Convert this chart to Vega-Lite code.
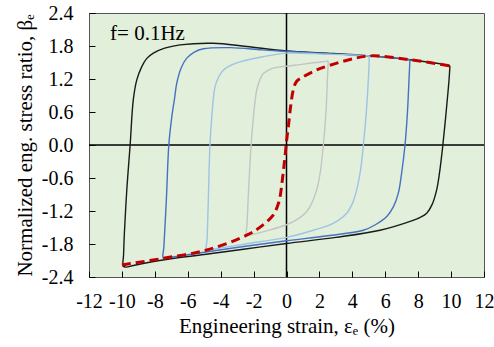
{
  "$schema": "https://vega.github.io/schema/vega-lite/v6.json",
  "autosize": {"type": "none"},
  "width": 395,
  "height": 264,
  "padding": {"left": 89, "top": 13, "right": 10, "bottom": 70},
  "background": "#ffffff",
  "config": {
    "view": {"fill": "#E2EFDA", "stroke": "#555555", "strokeWidth": 1},
    "font": "Liberation Serif"
  },
  "datasets": {
    "loops": [
      {"s":"A10","i":0,"x":9.93,"y":1.44},{"s":"A10","i":0.5,"x":9.88,"y":1.2},{"s":"A10","i":1,"x":9.7,"y":0.6},{"s":"A10","i":2,"x":9.5,"y":0.0},{"s":"A10","i":3,"x":9.3,"y":-0.5},{"s":"A10","i":4,"x":9.12,"y":-0.82},{"s":"A10","i":5,"x":8.85,"y":-1.08},{"s":"A10","i":6,"x":8.52,"y":-1.24},{"s":"A10","i":7,"x":8.1,"y":-1.32},{"s":"A10","i":8,"x":7.69,"y":-1.37},{"s":"A10","i":9,"x":5.68,"y":-1.55},{"s":"A10","i":10,"x":3.0,"y":-1.68},{"s":"A10","i":11,"x":0.0,"y":-1.79},{"s":"A10","i":12,"x":-2.5,"y":-1.89},{"s":"A10","i":13,"x":-5.0,"y":-1.99},{"s":"A10","i":14,"x":-7.5,"y":-2.09},{"s":"A10","i":15,"x":-9.3,"y":-2.19},{"s":"A10","i":16,"x":-9.75,"y":-2.22},{"s":"A10","i":17,"x":-9.92,"y":-2.2},{"s":"A10","i":17.5,"x":-9.9,"y":-2.0},{"s":"A10","i":18,"x":-9.85,"y":-1.6},{"s":"A10","i":19,"x":-9.7,"y":-0.8},{"s":"A10","i":20,"x":-9.5,"y":0.0},{"s":"A10","i":21,"x":-9.31,"y":0.82},{"s":"A10","i":22,"x":-9.1,"y":1.18},{"s":"A10","i":23,"x":-8.8,"y":1.42},{"s":"A10","i":24,"x":-8.5,"y":1.57},{"s":"A10","i":25,"x":-8.09,"y":1.67},{"s":"A10","i":26,"x":-7.4,"y":1.76},{"s":"A10","i":27,"x":-6.47,"y":1.82},{"s":"A10","i":28,"x":-4.45,"y":1.85},{"s":"A10","i":29,"x":-2.42,"y":1.79},{"s":"A10","i":30,"x":0.0,"y":1.71},{"s":"A10","i":31,"x":2.5,"y":1.67},{"s":"A10","i":32,"x":5.07,"y":1.62},{"s":"A10","i":33,"x":7.5,"y":1.55},{"s":"A10","i":34,"x":9.0,"y":1.49},{"s":"A10","i":34.5,"x":9.5,"y":1.465},{"s":"A10","i":35,"x":9.93,"y":1.44},
      {"s":"A7.5","i":0,"x":7.5,"y":1.55},{"s":"A7.5","i":0.5,"x":7.46,"y":1.3},{"s":"A7.5","i":1,"x":7.35,"y":0.6},{"s":"A7.5","i":2,"x":7.2,"y":0.0},{"s":"A7.5","i":3,"x":7.0,"y":-0.5},{"s":"A7.5","i":4,"x":6.79,"y":-0.88},{"s":"A7.5","i":5,"x":6.5,"y":-1.12},{"s":"A7.5","i":6,"x":6.09,"y":-1.3},{"s":"A7.5","i":7,"x":5.4,"y":-1.45},{"s":"A7.5","i":8,"x":4.67,"y":-1.55},{"s":"A7.5","i":9,"x":2.5,"y":-1.65},{"s":"A7.5","i":10,"x":0.0,"y":-1.74},{"s":"A7.5","i":11,"x":-2.5,"y":-1.84},{"s":"A7.5","i":12,"x":-5.0,"y":-1.95},{"s":"A7.5","i":12.5,"x":-7.0,"y":-2.04},{"s":"A7.5","i":13,"x":-7.48,"y":-2.06},{"s":"A7.5","i":13.5,"x":-7.45,"y":-1.85},{"s":"A7.5","i":14,"x":-7.3,"y":-1.0},{"s":"A7.5","i":15,"x":-7.15,"y":0.0},{"s":"A7.5","i":16,"x":-6.97,"y":0.51},{"s":"A7.5","i":17,"x":-6.8,"y":0.85},{"s":"A7.5","i":18,"x":-6.67,"y":1.12},{"s":"A7.5","i":19,"x":-6.4,"y":1.4},{"s":"A7.5","i":20,"x":-6.06,"y":1.58},{"s":"A7.5","i":21,"x":-5.6,"y":1.69},{"s":"A7.5","i":22,"x":-5.05,"y":1.75},{"s":"A7.5","i":23,"x":-3.43,"y":1.77},{"s":"A7.5","i":24,"x":-1.5,"y":1.73},{"s":"A7.5","i":25,"x":0.0,"y":1.7},{"s":"A7.5","i":26,"x":2.5,"y":1.66},{"s":"A7.5","i":27,"x":5.07,"y":1.62},{"s":"A7.5","i":27.5,"x":7.0,"y":1.57},{"s":"A7.5","i":28,"x":7.5,"y":1.55},
      {"s":"A5","i":0,"x":5.03,"y":1.62},{"s":"A5","i":0.5,"x":5.0,"y":1.35},{"s":"A5","i":1,"x":4.85,"y":0.6},{"s":"A5","i":2,"x":4.67,"y":0.0},{"s":"A5","i":3,"x":4.5,"y":-0.45},{"s":"A5","i":4,"x":4.26,"y":-0.82},{"s":"A5","i":5,"x":3.98,"y":-1.08},{"s":"A5","i":6,"x":3.66,"y":-1.24},{"s":"A5","i":7,"x":2.8,"y":-1.43},{"s":"A5","i":8,"x":1.63,"y":-1.55},{"s":"A5","i":9,"x":0.0,"y":-1.68},{"s":"A5","i":10,"x":-2.5,"y":-1.8},{"s":"A5","i":10.5,"x":-4.4,"y":-1.89},{"s":"A5","i":11,"x":-4.85,"y":-1.91},{"s":"A5","i":11.5,"x":-4.82,"y":-1.7},{"s":"A5","i":12,"x":-4.75,"y":-1.0},{"s":"A5","i":13,"x":-4.65,"y":0.0},{"s":"A5","i":14,"x":-4.54,"y":0.51},{"s":"A5","i":15,"x":-4.34,"y":1.06},{"s":"A5","i":16,"x":-4.1,"y":1.25},{"s":"A5","i":17,"x":-3.84,"y":1.36},{"s":"A5","i":18,"x":-3.3,"y":1.46},{"s":"A5","i":19,"x":-2.83,"y":1.51},{"s":"A5","i":20,"x":-1.5,"y":1.6},{"s":"A5","i":21,"x":0.0,"y":1.67},{"s":"A5","i":22,"x":2.5,"y":1.65},{"s":"A5","i":22.5,"x":4.5,"y":1.63},{"s":"A5","i":23,"x":5.03,"y":1.62},
      {"s":"A2.5","i":0,"x":2.54,"y":1.53},{"s":"A2.5","i":0.5,"x":2.5,"y":1.3},{"s":"A2.5","i":1,"x":2.4,"y":0.6},{"s":"A2.5","i":2,"x":2.24,"y":0.0},{"s":"A2.5","i":3,"x":2.05,"y":-0.5},{"s":"A2.5","i":4,"x":1.83,"y":-0.82},{"s":"A2.5","i":5,"x":1.5,"y":-1.08},{"s":"A2.5","i":6,"x":1.23,"y":-1.21},{"s":"A2.5","i":7,"x":0.82,"y":-1.32},{"s":"A2.5","i":8,"x":0.0,"y":-1.45},{"s":"A2.5","i":9,"x":-1.2,"y":-1.56},{"s":"A2.5","i":9.5,"x":-2.0,"y":-1.62},{"s":"A2.5","i":10,"x":-2.42,"y":-1.64},{"s":"A2.5","i":10.5,"x":-2.4,"y":-1.45},{"s":"A2.5","i":11,"x":-2.3,"y":-0.8},{"s":"A2.5","i":12,"x":-2.15,"y":0.0},{"s":"A2.5","i":13,"x":-2.01,"y":0.51},{"s":"A2.5","i":14,"x":-1.9,"y":0.82},{"s":"A2.5","i":15,"x":-1.81,"y":1.0},{"s":"A2.5","i":16,"x":-1.6,"y":1.2},{"s":"A2.5","i":17,"x":-1.41,"y":1.3},{"s":"A2.5","i":18,"x":-0.9,"y":1.39},{"s":"A2.5","i":19,"x":-0.39,"y":1.42},{"s":"A2.5","i":20,"x":0.5,"y":1.45},{"s":"A2.5","i":21,"x":1.5,"y":1.49},{"s":"A2.5","i":21.5,"x":2.1,"y":1.51},{"s":"A2.5","i":22,"x":2.54,"y":1.53}
    ],
    "mono": [
      {"i":0,"x":-10.0,"y":-2.18},{"i":1,"x":-7.48,"y":-2.06},{"i":2,"x":-4.85,"y":-1.91},{"i":3,"x":-2.42,"y":-1.64},{"i":4,"x":-1.5,"y":-1.47},{"i":5,"x":-0.8,"y":-1.27},{"i":6,"x":-0.5,"y":-1.07},{"i":7,"x":-0.39,"y":-0.94},{"i":8,"x":-0.2,"y":-0.5},{"i":9,"x":-0.09,"y":-0.21},{"i":10,"x":0.01,"y":0.09},{"i":11,"x":0.11,"y":0.33},{"i":12,"x":0.25,"y":0.7},{"i":13,"x":0.41,"y":1.0},{"i":14,"x":0.6,"y":1.15},{"i":15,"x":1.02,"y":1.24},{"i":16,"x":1.8,"y":1.36},{"i":17,"x":2.64,"y":1.45},{"i":18,"x":3.8,"y":1.55},{"i":19,"x":5.07,"y":1.62},{"i":20,"x":7.5,"y":1.55},{"i":21,"x":9.93,"y":1.44}
    ],
    "zero": [{"v": 0}],
    "label": [{"x": -10.72, "y": 1.91, "t": "f= 0.1Hz"}]
  },
  "encoding": {
    "x": {"field": "x", "type": "quantitative", "scale": {"domain": [-12, 12], "nice": false},
      "axis": {"values": [-12,-10,-8,-6,-4,-2,0,2,4,6,8,10,12], "labelOverlap": false, "labelFlush": false, "labelExpr": "replace(datum.label, '−', '-')", "domain": false, "grid": false, "tickSize": -6, "tickColor": "#000000", "labelPadding": 20,
        "labelFont": "Liberation Serif", "labelFontSize": 20, "labelColor": "#000000",
        "title": "Engineering strain, εₑ (%)", "titleFont": "Liberation Serif", "titleFontSize": 21, "titleFontWeight": "normal", "titleColor": "#000000", "titlePadding": 4}},
    "y": {"field": "y", "type": "quantitative", "scale": {"domain": [-2.4, 2.4], "nice": false},
      "axis": {"values": [-2.4,-1.8,-1.2,-0.6,0,0.6,1.2,1.8,2.4], "format": ".1f", "labelOverlap": false, "labelFlush": false, "labelExpr": "replace(datum.label, '−', '-')", "domain": false, "grid": false, "tickSize": -6, "tickColor": "#000000", "labelPadding": 22,
        "labelFont": "Liberation Serif", "labelFontSize": 20, "labelColor": "#000000",
        "title": "Normalized eng. stress ratio, βₑ", "titleFont": "Liberation Serif", "titleFontSize": 21, "titleFontWeight": "normal", "titleColor": "#000000", "titlePadding": 6}}
  },
  "layer": [
    {"data": {"name": "zero"}, "mark": {"type": "rule", "color": "#000000", "strokeWidth": 1.5},
      "encoding": {"x": {"field": "v", "type": "quantitative"}, "y": null}},
    {"data": {"name": "zero"}, "mark": {"type": "rule", "color": "#000000", "strokeWidth": 1.5},
      "encoding": {"y": {"field": "v", "type": "quantitative"}, "x": null}},
    {"data": {"name": "loops"}, "mark": {"type": "line", "strokeWidth": 1.4, "interpolate": "catmull-rom"},
      "encoding": {
        "color": {"field": "s", "type": "nominal", "legend": null,
          "scale": {"domain": ["A10", "A7.5", "A5", "A2.5"], "range": ["#1a1a1a", "#4472C4", "#9DC3E6", "#C4C4C4"]}},
        "order": {"field": "i", "type": "quantitative"}
      }},
    {"data": {"name": "mono"}, "mark": {"type": "line", "color": "#C00000", "strokeWidth": 3, "strokeDash": [9, 5], "interpolate": "catmull-rom"},
      "encoding": {"order": {"field": "i", "type": "quantitative"}}},
    {"data": {"name": "label"}, "mark": {"type": "text", "align": "left", "baseline": "alphabetic", "font": "Liberation Serif", "fontSize": 21, "color": "#000000"},
      "encoding": {"text": {"field": "t"}}}
  ]
}
